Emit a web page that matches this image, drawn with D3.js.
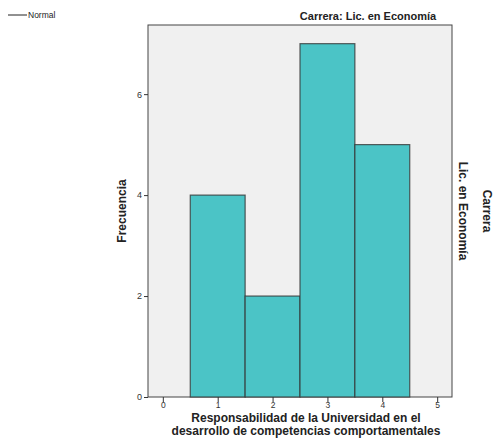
<!DOCTYPE html>
<html><head><meta charset="utf-8">
<script src="https://d3js.org/d3.v7.min.js"></script>
<style>body{margin:0;background:#fff;} svg{display:block;font-family:Arial,"Liberation Sans",sans-serif;}</style>
</head><body>
<script>
const binStarts = [0.5, 1.5, 2.5, 3.5];
const binEnds = [1.5, 2.5, 3.5, 4.5];
const counts = [4, 2, 7, 5];
const xTicks = [0, 1, 2, 3, 4, 5];
const yTicks = [0, 2, 4, 6];
const title = "Carrera: Lic. en Economía";
const xLabel = ["Responsabilidad de la Universidad en el", "desarrollo de competencias comportamentales"];
const yLabel = "Frecuencia";
const stripLabel = "Lic. en Economía";
const stripTitle = "Carrera";
const legendLabel = "Normal";

(function(){
const W = 495, H = 439;
const svg = d3.select("body").append("svg").attr("width", W).attr("height", H);
const pL = 148, pR = 452, pT = 25, pB = 397;
const x = d3.scaleLinear().domain([-0.27, 5.27]).range([pL, pR]);
const y = d3.scaleLinear().domain([0, 7.37]).range([pB, pT]);

svg.append("rect").attr("x", pL).attr("y", pT).attr("width", pR-pL).attr("height", pB-pT)
  .attr("fill", "#f0f0f0").attr("stroke", "#444").attr("stroke-width", 1);

const bars = binStarts.map((s,i)=>({s, e: binEnds[i], c: counts[i]}));
svg.selectAll("rect.bar").data(bars).enter().append("rect").attr("class","bar")
  .attr("x", d=>x(d.s)).attr("y", d=>y(d.c)).attr("width", d=>x(d.e)-x(d.s)).attr("height", d=>y(0)-y(d.c))
  .attr("fill", "#4bc4c6").attr("stroke", "#333").attr("stroke-opacity", 0.8).attr("stroke-width", 1.2);

const xAxis = d3.axisBottom(x).tickValues(xTicks).tickSize(5).tickPadding(0).tickFormat(d3.format("d"));
const gx = svg.append("g").attr("transform", `translate(0,${pB})`).call(xAxis);
gx.select(".domain").remove();
gx.selectAll("line").attr("stroke", "#333");
gx.selectAll("text").attr("font-size", 8.5).attr("fill", "#333");

const yAxis = d3.axisLeft(y).tickValues(yTicks).tickSize(4).tickPadding(2).tickFormat(d3.format("d"));
const gy = svg.append("g").attr("transform", `translate(${pL},0)`).call(yAxis);
gy.select(".domain").remove();
gy.selectAll("line").attr("stroke", "#333");
gy.selectAll("text").attr("font-size", 9).attr("fill", "#333");

svg.append("text").attr("x", 368).attr("y", 20).attr("text-anchor","middle")
  .attr("font-size", 11).attr("font-weight","bold").attr("fill","#222").text(title);

svg.append("text").attr("transform","translate(126,211) rotate(-90)").attr("text-anchor","middle")
  .attr("font-size", 12).attr("font-weight","bold").attr("fill","#222").text(yLabel);

svg.append("text").attr("x", 306).attr("y", 422).attr("text-anchor","middle")
  .attr("font-size", 12).attr("font-weight","bold").attr("fill","#222").text(xLabel[0]);
svg.append("text").attr("x", 306).attr("y", 434.5).attr("text-anchor","middle")
  .attr("font-size", 12).attr("font-weight","bold").attr("fill","#222").text(xLabel[1]);

svg.append("text").attr("transform","translate(459,211) rotate(90)").attr("text-anchor","middle")
  .attr("font-size", 12).attr("font-weight","bold").attr("fill","#222").text(stripLabel);
svg.append("text").attr("transform","translate(483,211) rotate(90)").attr("text-anchor","middle")
  .attr("font-size", 12).attr("font-weight","bold").attr("fill","#222").text(stripTitle);

svg.append("line").attr("x1", 8).attr("x2", 27).attr("y1", 15).attr("y2", 15).attr("stroke","#222").attr("stroke-width",1);
svg.append("text").attr("x", 28).attr("y", 18).attr("font-size", 8.5).attr("fill","#222").text(legendLabel);
})();
</script>
</body></html>
